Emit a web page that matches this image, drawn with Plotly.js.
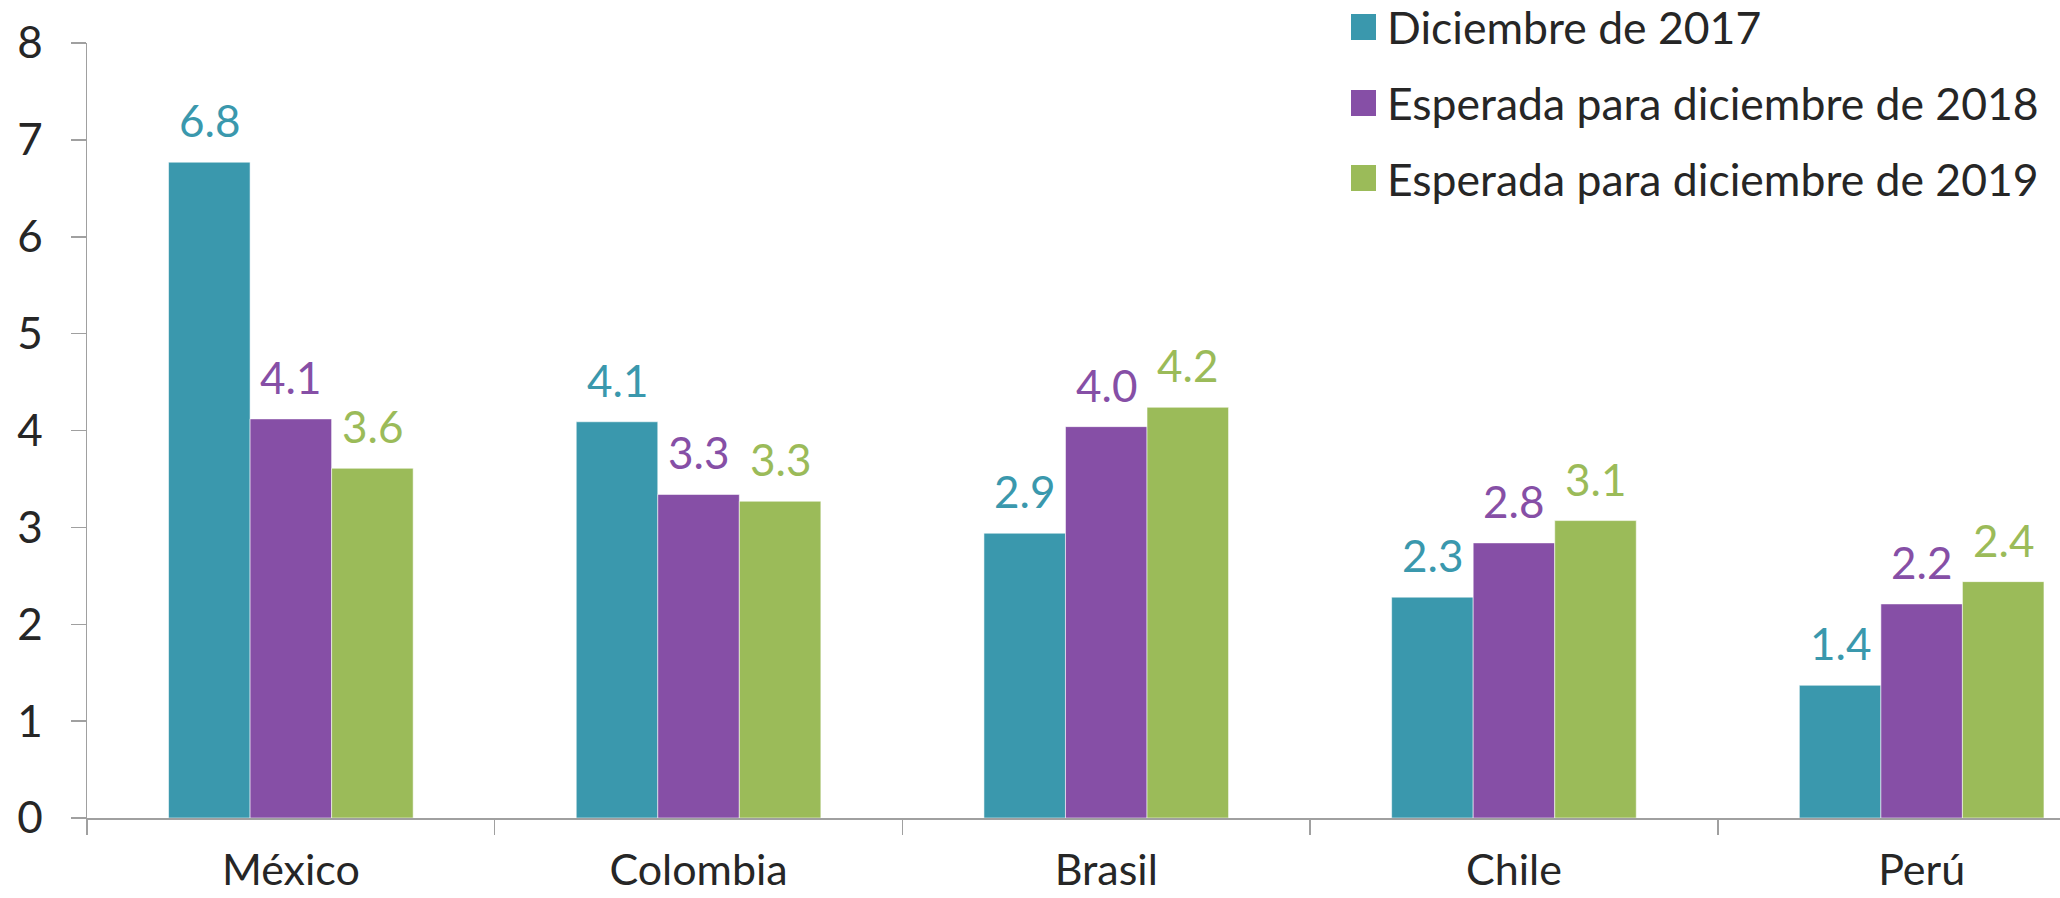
<!DOCTYPE html>
<html>
<head>
<meta charset="utf-8">
<script src="https://cdn.plot.ly/plotly-3.0.1.min.js"></script>
<style>
  html, body { margin: 0; padding: 0; background: #ffffff; }
  #chart { width: 2060px; height: 898px; }
</style>
</head>
<body>
<div id="chart"></div>
<script>
// ---- Data ----
const categories = ["México", "Colombia", "Brasil", "Chile", "Perú"];
const seriesNames = ["Diciembre de 2017", "Esperada para diciembre de 2018", "Esperada para diciembre de 2019"];
const dic2017 = [6.77, 4.09, 2.94, 2.28, 1.37];
const esp2018 = [4.12, 3.34, 4.04, 2.84, 2.21];
const esp2019 = [3.61, 3.27, 4.24, 3.07, 2.44];
const yTickVals = [0, 1, 2, 3, 4, 5, 6, 7, 8];

const seriesValues = [dic2017, esp2018, esp2019];
const colors = ["#3A98AD", "#864FA6", "#9BBB59"];
const FONT = "Lato, 'Open Sans', sans-serif";
const AXIS_GRAY = "#A0A0A0";
const TEXT_DARK = "#262626";

// layout geometry (pixels)
const W = 2060, H = 898;
const mL = 87, mR = 0, mT = 43, mB = 80;
const plotW = W - mL - mR, plotH = H - mT - mB;
const catWidthPx = 407.7;
const xMax = -0.5 + plotW / catWidthPx;

const traces = seriesValues.map((vals, s) => ({
  type: "bar",
  name: seriesNames[s],
  x: categories,
  y: vals,
  marker: { color: colors[s], line: { color: "rgba(255,255,255,0.55)", width: 1 } },
  showlegend: false,
  hoverinfo: "x+y+name",
  cliponaxis: false
}));

// value labels through the axes (category index + group offset)
const annotations = [];
const groupOffsets = [-0.2, 0, 0.2];
seriesValues.forEach((vals, s) => {
  vals.forEach((v, i) => {
    annotations.push({
      xref: "x", yref: "y",
      x: i + groupOffsets[s], y: v,
      text: v.toFixed(1),
      showarrow: false,
      yanchor: "bottom", xanchor: "center",
      yshift: 14,
      font: { family: FONT, size: 44, color: colors[s] }
    });
  });
});

// custom legend (large swatches)
const legendRowsPx = [27, 103, 178];
const legendSwatchX = (1351 - mL) / plotW;
const legendTextX = (1385 - mL) / plotW;
const shapes = [];
seriesNames.forEach((name, s) => {
  const py = (mT + plotH - legendRowsPx[s]) / plotH;
  shapes.push({
    type: "rect", xref: "paper", yref: "paper",
    xsizemode: "pixel", ysizemode: "pixel",
    xanchor: legendSwatchX, yanchor: py,
    x0: 0, x1: 25, y0: -13, y1: 13,
    fillcolor: colors[s], line: { width: 0 }
  });
  annotations.push({
    xref: "paper", yref: "paper",
    x: legendTextX, y: py,
    xanchor: "left", yanchor: "middle",
    text: name, showarrow: false,
    font: { family: FONT, size: 44.5, color: TEXT_DARK }
  });
});

const layout = {
  width: W, height: H,
  margin: { l: mL, r: mR, t: mT, b: mB, pad: 0 },
  paper_bgcolor: "#ffffff",
  plot_bgcolor: "#ffffff",
  barmode: "group",
  bargap: 0.4,
  bargroupgap: 0,
  showlegend: false,
  font: { family: FONT, size: 44, color: TEXT_DARK },
  xaxis: {
    type: "category",
    range: [-0.5, xMax],
    tickson: "boundaries",
    ticks: "outside",
    ticklen: 15,
    tickwidth: 1.5,
    tickcolor: AXIS_GRAY,
    showline: true,
    linecolor: AXIS_GRAY,
    linewidth: 1.5,
    showgrid: false,
    zeroline: false,
    ticklabelstandoff: 14,
    tickfont: { family: FONT, size: 43, color: TEXT_DARK },
    fixedrange: true
  },
  xaxis2: {
    overlaying: "x",
    anchor: "y",
    type: "linear",
    range: [-0.5, xMax],
    tickvals: [0, 1, 2, 3, 4],
    ticks: "inside",
    ticklen: 11,
    tickwidth: 1.5,
    tickcolor: AXIS_GRAY,
    showticklabels: false,
    showline: false,
    showgrid: false,
    zeroline: false,
    fixedrange: true
  },
  yaxis: {
    range: [0, 8],
    tickvals: yTickVals,
    ticks: "outside",
    ticklen: 15,
    tickwidth: 1.5,
    tickcolor: AXIS_GRAY,
    showline: true,
    linecolor: AXIS_GRAY,
    linewidth: 1.5,
    showgrid: false,
    zeroline: false,
    ticklabelstandoff: 19,
    tickfont: { family: FONT, size: 44, color: TEXT_DARK },
    fixedrange: true
  },
  annotations: annotations,
  shapes: shapes
};

Plotly.newPlot("chart", traces, layout, { staticPlot: true, displayModeBar: false });
</script>
</body>
</html>
